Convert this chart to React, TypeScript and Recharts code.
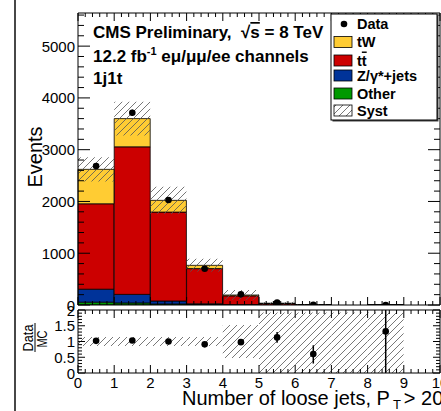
import { Bar, ComposedChart, ErrorBar, Scatter, XAxis, YAxis } from 'recharts';

// Jet-multiplicity bins, one entry per bin [n, n+1)
const BINS = ['0', '1', '2', '3', '4', '5', '6', '7', '8', '9'];
const BIN_CENTERS = [0.5, 1.5, 2.5, 3.5, 4.5, 5.5, 6.5, 7.5, 8.5, 9.5];

// Stacked MC expectation (events)
const OTHER = [55, 40, 20, 8, 3, 1, 0, 0, 0, 0];
const ZJETS = [250, 165, 57, 15, 4, 1, 0.3, 0, 0.06, 0];
const TTBAR = [1650, 2850, 1718, 680, 170, 28, 6.5, 0, 0.6, 0];
const TW = [665, 545, 226, 63, 16, 3, 1.2, 0, 0.1, 0];

// Systematic band around the MC total
const SYST_LOW = [2385, 3275, 1760, 640, 97, 3, 1, null, 0.1, null];
const SYST_HIGH = [2855, 3925, 2284, 894, 290, 63, 15, null, 1.5, null];

// Observed data and its statistical error
const DATA = [2683, 3712, 2027, 700, 206, 45, 5, null, 1, null];
const DATA_ERR = [52, 61, 45, 26, 14, 7, 2.2, null, 1, null];

// Data/MC ratio panel
const RATIO = [1.02, 1.03, 1.0, 0.91, 0.98, 1.13, 0.6, null, 1.32, null];
const RATIO_ERR_LOW = [0.02, 0.02, 0.03, 0.04, 0.07, 0.17, 0.3, null, 1.32, null];
const RATIO_ERR_HIGH = [0.02, 0.02, 0.03, 0.04, 0.07, 0.17, 0.28, null, 0.68, null];
const BAND_LOW = [0.86, 0.86, 0.86, 0.86, 0.48, 0, 0, 0, 0, null];
const BAND_HIGH = [1.14, 1.14, 1.14, 1.14, 1.52, 1.92, 1.92, 1.92, 1.92, null];

// Axis ticks
const X_MAJOR = [0, 1, 2, 3, 4, 5, 6, 7, 8, 9, 10];
const MAIN_Y_MAJOR = [0, 1000, 2000, 3000, 4000, 5000];
const RATIO_Y_MAJOR = [0, 0.5, 1, 1.5, 2];

const COLORS = {
	tw: '#ffcc33',
	tt: '#cc0000',
	z: '#003399',
	other: '#009900',
	hatch: '#555',
};

const FONT = '"Liberation Sans", Arial, sans-serif';

const W = 441;
const LEFT = 78;
const RIGHT = 440;
const MAIN_TOP = 13;
const MAIN_BOTTOM = 305;
const MAIN_H = 320;
const RATIO_OFFSET = 296;
const RATIO_H = 115;
const RATIO_TOP = 310 - RATIO_OFFSET;
const RATIO_BOTTOM = 373 - RATIO_OFFSET;

const minorTicks = (max: number, step: number) => {
	const out: number[] = [];
	for (let k = 0; k * step <= max + 1e-9; k++) {
		out.push(Math.round(k * step * 1000) / 1000);
	}
	return out;
};

const mainRows = BINS.map((bin, i) => ({
	bin,
	x: BIN_CENTERS[i],
	other: OTHER[i],
	z: ZJETS[i],
	tt: TTBAR[i],
	tw: TW[i],
	syst: SYST_LOW[i] === null ? null : [SYST_LOW[i], SYST_HIGH[i]],
}));

const dataPoints = BINS.map((_, i) => ({
	x: BIN_CENTERS[i],
	y: DATA[i],
	err: DATA_ERR[i],
})).filter((p) => p.y !== null);

const ratioRows = BINS.map((bin, i) => ({
	bin,
	x: BIN_CENTERS[i],
	band: BAND_LOW[i] === null ? null : [BAND_LOW[i], BAND_HIGH[i]],
}));

const ratioPoints = BINS.map((_, i) => ({
	x: BIN_CENTERS[i],
	y: RATIO[i],
	err: [RATIO_ERR_LOW[i], RATIO_ERR_HIGH[i]],
})).filter((p) => p.y !== null);

const isInt = (v: number) => Math.abs(v - Math.round(v)) < 1e-6;

// ROOT-style inward ticks on a horizontal edge
const xTick =
	(edgeY: number, dir: number, labelY?: number) =>
	(props: any) => {
		const { x, payload } = props;
		const v = payload.value as number;
		const major = isInt(v);
		const len = major ? 8 : 4;
		return (
			<g>
				<line x1={x} x2={x} y1={edgeY} y2={edgeY + dir * len} stroke='#000' strokeWidth={1} />
				{labelY !== undefined && major && X_MAJOR.includes(v) && (
					<text x={x} y={labelY} textAnchor='middle' fontSize={15} fontFamily={FONT} fill='#000'>
						{v}
					</text>
				)}
			</g>
		);
	};

// Inward ticks on a vertical edge
const yTick =
	(edgeX: number, dir: number, majors: number[], majorLen: number, minorLen: number, label: boolean) =>
	(props: any) => {
		const { y, payload } = props;
		const v = payload.value as number;
		const major = majors.some((m) => Math.abs(m - v) < 1e-6);
		const len = major ? majorLen : minorLen;
		return (
			<g>
				<line x1={edgeX} x2={edgeX + dir * len} y1={y} y2={y} stroke='#000' strokeWidth={1} />
				{label && major && (
					<text
						x={edgeX - 3}
						y={y}
						textAnchor='end'
						dominantBaseline='central'
						fontSize={15}
						fontFamily={FONT}
						fill='#000'
					>
						{v}
					</text>
				)}
			</g>
		);
	};

const dot = (props: any) => <circle cx={props.cx} cy={props.cy} r={3.3} fill='#000' />;

const hatchDefs = (id: string) => (
	<defs>
		<pattern id={id} patternUnits='userSpaceOnUse' width={7} height={7}>
			<path d='M0,7 L7,0 M-1,1 L1,-1 M6,8 L8,6' stroke={COLORS.hatch} strokeWidth={0.8} />
		</pattern>
	</defs>
);

const X_TICKS = minorTicks(10, 0.2);
const MAIN_Y_TICKS = minorTicks(5600, 200);
const RATIO_Y_TICKS = minorTicks(2, 0.1);

const axisCommon = {
	interval: 0 as const,
	tickSize: 0,
	tickLine: false,
	axisLine: { stroke: '#000' },
};

const layer = (top: number) => ({ position: 'absolute' as const, left: 0, top });

// Frame with inward ticks on all four sides, drawn on top of the series.
// Axes take 1px each; the margins make up the rest of the frame offsets.
const Frame = ({
	height,
	top,
	bottom,
	yMax,
	yTicks,
	yMajor,
	yMajorLen,
	yMinorLen,
	labelY,
}: {
	height: number;
	top: number;
	bottom: number;
	yMax: number;
	yTicks: number[];
	yMajor: number[];
	yMajorLen: number;
	yMinorLen: number;
	labelY?: number;
}) => (
	<ComposedChart
		width={W}
		height={height}
		data={BIN_CENTERS.map((x) => ({ x }))}
		margin={{ top: top - 1, right: W - RIGHT - 1, bottom: height - bottom - 1, left: LEFT - 1 }}
	>
		<XAxis
			xAxisId='num'
			dataKey='x'
			type='number'
			domain={[0, 10]}
			allowDataOverflow
			ticks={X_TICKS}
			height={1}
			{...axisCommon}
			tick={xTick(bottom, -1, labelY)}
		/>
		<XAxis
			xAxisId='numTop'
			orientation='top'
			dataKey='x'
			type='number'
			domain={[0, 10]}
			allowDataOverflow
			ticks={X_TICKS}
			height={1}
			{...axisCommon}
			tick={xTick(top, 1)}
		/>
		<YAxis
			yAxisId='left'
			type='number'
			domain={[0, yMax]}
			allowDataOverflow
			ticks={yTicks}
			width={1}
			{...axisCommon}
			tick={yTick(LEFT, 1, yMajor, yMajorLen, yMinorLen, true)}
		/>
		<YAxis
			yAxisId='right'
			orientation='right'
			type='number'
			domain={[0, yMax]}
			allowDataOverflow
			ticks={yTicks}
			width={1}
			{...axisCommon}
			tick={yTick(RIGHT, -1, yMajor, yMajorLen, yMinorLen, false)}
		/>
	</ComposedChart>
);

const MainPanel = () => (
	<ComposedChart
		width={W}
		height={MAIN_H}
		data={mainRows}
		margin={{ top: MAIN_TOP, right: W - RIGHT, bottom: MAIN_H - MAIN_BOTTOM, left: LEFT }}
		barCategoryGap={0}
		barGap={0}
	>
		{hatchDefs('hatchMain')}
		<XAxis xAxisId='cat' dataKey='bin' type='category' hide />
		<XAxis xAxisId='cat2' dataKey='bin' type='category' hide />
		<XAxis xAxisId='num' dataKey='x' type='number' domain={[0, 10]} allowDataOverflow hide />
		<YAxis yAxisId='left' type='number' domain={[0, 5640]} allowDataOverflow hide />
		<Bar xAxisId='cat' yAxisId='left' dataKey='other' stackId='mc' fill={COLORS.other} stroke='#000' strokeWidth={0.8} isAnimationActive={false} />
		<Bar xAxisId='cat' yAxisId='left' dataKey='z' stackId='mc' fill={COLORS.z} stroke='#000' strokeWidth={0.8} isAnimationActive={false} />
		<Bar xAxisId='cat' yAxisId='left' dataKey='tt' stackId='mc' fill={COLORS.tt} stroke='#000' strokeWidth={0.8} isAnimationActive={false} />
		<Bar xAxisId='cat' yAxisId='left' dataKey='tw' stackId='mc' fill={COLORS.tw} stroke='#000' strokeWidth={0.8} isAnimationActive={false} />
		<Bar xAxisId='cat2' yAxisId='left' dataKey='syst' fill='url(#hatchMain)' isAnimationActive={false} />
		<Scatter xAxisId='num' yAxisId='left' data={dataPoints} dataKey='y' shape={dot} isAnimationActive={false}>
			<ErrorBar dataKey='err' direction='y' width={0} stroke='#000' strokeWidth={1.5} />
		</Scatter>
	</ComposedChart>
);

const RatioPanel = () => (
	<ComposedChart
		width={W}
		height={RATIO_H}
		data={ratioRows}
		margin={{ top: RATIO_TOP, right: W - RIGHT, bottom: RATIO_H - RATIO_BOTTOM, left: LEFT }}
		barCategoryGap={0}
		barGap={0}
	>
		{hatchDefs('hatchRatio')}
		<XAxis xAxisId='cat' dataKey='bin' type='category' hide />
		<XAxis xAxisId='num' dataKey='x' type='number' domain={[0, 10]} allowDataOverflow hide />
		<YAxis yAxisId='left' type='number' domain={[0, 2]} allowDataOverflow hide />
		<Bar xAxisId='cat' yAxisId='left' dataKey='band' fill='url(#hatchRatio)' isAnimationActive={false} />
		<Scatter xAxisId='num' yAxisId='left' data={ratioPoints} dataKey='y' shape={dot} isAnimationActive={false}>
			<ErrorBar dataKey='err' direction='y' width={0} stroke='#000' strokeWidth={1.5} />
		</Scatter>
	</ComposedChart>
);

const legendItems = [
	{ label: 'tW', fill: COLORS.tw, y: 42 },
	{ label: 'tt', fill: COLORS.tt, y: 60.5 },
	{ label: 'Z/γ*+jets', fill: COLORS.z, y: 75.5 },
	{ label: 'Other', fill: COLORS.other, y: 93.5 },
	{ label: 'Syst', fill: 'url(#hatchLegend)', y: 110.5 },
];

const Overlay = () => (
	<svg
		width={W}
		height={411}
		style={{ position: 'absolute', left: 0, top: 0, pointerEvents: 'none' }}
		fontFamily={FONT}
	>
		{hatchDefs('hatchLegend')}
		<line x1={15} x2={15} y1={0} y2={411} stroke='#333' strokeWidth={1.8} />

		<g fontWeight='bold' fontSize={17} fill='#000'>
			<text x={93} y={38}>
				{'CMS Preliminary,\u00a0\u00a0√'}
				<tspan textDecoration='overline'>s</tspan>
				{' = 8 TeV'}
			</text>
			<text x={93} y={62}>
				{'12.2 fb'}
				<tspan dy={-7} fontSize={11}>
					-1
				</tspan>
				<tspan dy={7}>{' eμ/μμ/ee channels'}</tspan>
			</text>
			<text x={93} y={84}>
				1j1t
			</text>
		</g>

		<rect x={332.5} y={15.5} width={106} height={106} fill='#444' />
		<rect x={331} y={14} width={106} height={106} fill='#fff' stroke='#000' strokeWidth={1} />
		<circle cx={344} cy={24} r={3.3} fill='#000' />
		<text x={357} y={24} dominantBaseline='central' fontSize={14.5} fontWeight='bold'>
			Data
		</text>
		{legendItems.map((item) => (
			<g key={item.label}>
				<rect x={334} y={item.y - 5.5} width={18} height={11} fill={item.fill} stroke='#000' strokeWidth={0.8} />
				<text x={357} y={item.y} dominantBaseline='central' fontSize={14.5} fontWeight='bold'>
					{item.label === 'tt' ? (
						<>
							t<tspan textDecoration='overline'>t</tspan>
						</>
					) : (
						item.label
					)}
				</text>
			</g>
		))}

		<text x={42} y={157} transform='rotate(-90 42 157)' textAnchor='middle' fontSize={20}>
			Events
		</text>
		<text
			x={33}
			y={338}
			transform='rotate(-90 33 338)'
			textAnchor='middle'
			fontSize={15}
			textLength={27}
			lengthAdjust='spacingAndGlyphs'
		>
			Data
		</text>
		<line x1={35} x2={35} y1={323} y2={352} stroke='#000' strokeWidth={1} />
		<text
			x={47}
			y={339}
			transform='rotate(-90 47 339)'
			textAnchor='middle'
			fontSize={15}
			textLength={17}
			lengthAdjust='spacingAndGlyphs'
		>
			MC
		</text>

		<text x={182} y={405} fontSize={20}>
			{'Number of loose jets, P'}
			<tspan dx={3} dy={4} fontSize={13}>
				T
			</tspan>
			<tspan dx={3} dy={-4}>
				{'> 20'}
			</tspan>
		</text>
	</svg>
);

export default function App() {
	return (
		<div
			style={{
				position: 'fixed',
				left: 0,
				top: 0,
				width: W,
				height: 411,
				background: '#fff',
				overflow: 'hidden',
			}}
		>
			<div style={layer(0)}>
				<MainPanel />
			</div>
			<div style={layer(0)}>
				<Frame
					height={MAIN_H}
					top={MAIN_TOP}
					bottom={MAIN_BOTTOM}
					yMax={5640}
					yTicks={MAIN_Y_TICKS}
					yMajor={MAIN_Y_MAJOR}
					yMajorLen={12}
					yMinorLen={6}
				/>
			</div>
			<div style={layer(RATIO_OFFSET)}>
				<RatioPanel />
			</div>
			<div style={layer(RATIO_OFFSET)}>
				<Frame
					height={RATIO_H}
					top={RATIO_TOP}
					bottom={RATIO_BOTTOM}
					yMax={2}
					yTicks={RATIO_Y_TICKS}
					yMajor={RATIO_Y_MAJOR}
					yMajorLen={7}
					yMinorLen={4}
					labelY={388 - RATIO_OFFSET}
				/>
			</div>
			<Overlay />
		</div>
	);
}
